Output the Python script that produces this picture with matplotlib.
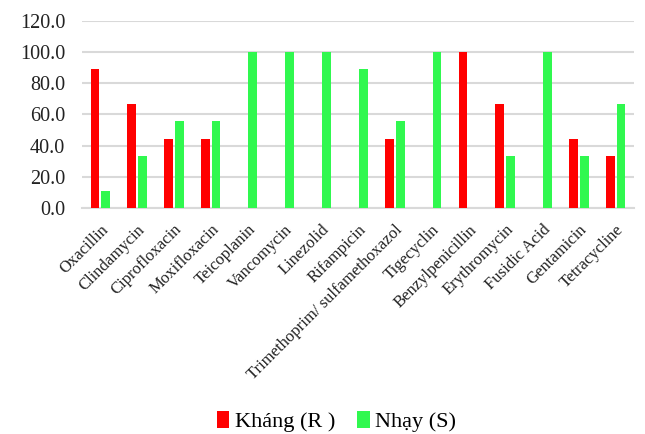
import numpy as np
import matplotlib.pyplot as plt

# du lieu
khang_so = ["Oxacillin", "Clindamycin", "Ciprofloxacin", "Moxifloxacin", "Teicoplanin",
            "Vancomycin", "Linezolid", "Rifampicin", "Trimethoprim/ sulfamethoxazol",
            "Tigecyclin", "Benzylpenicillin", "Erythromycin", "Fusidic Acid",
            "Gentamicin", "Tetracycline"]
khang = [88.9, 66.7, 44.4, 44.4, 0, 0, 0, 0, 44.4, 0, 100.0, 66.7, 0, 44.4, 33.3]
nhay = [11.1, 33.3, 55.6, 55.6, 100.0, 100.0, 100.0, 88.9, 55.6, 100.0, 0, 33.3, 100.0, 33.3, 66.7]
y_ticks = [0, 20, 40, 60, 80, 100, 120]

plt.rcParams['font.family'] = ['Liberation Serif', 'DejaVu Serif']

fig = plt.figure(figsize=(6.45, 4.34), dpi=100)
ax = fig.add_axes([0.127, 0.521, 0.856, 0.431])

x = np.arange(len(khang_so))
w = 0.24
ax.bar(x - w / 2 - 0.025, khang, w, color='#FF0000', label='Kháng (R )', zorder=3)
ax.bar(x + w / 2 + 0.025, nhay, w, color='#30F84F', label='Nhạy (S)', zorder=3)

ax.set_xlim(-0.5, len(khang_so) - 0.5)
ax.set_ylim(0, 120)
ax.set_yticks(y_ticks)
ax.set_yticklabels([f"{v:.1f}" for v in y_ticks], fontsize=14.5, color='#222222')
ax.yaxis.grid(True, color='#D9D9D9', linewidth=1.5, zorder=0)
ax.set_xticks(x)
ax.set_xticklabels(khang_so, rotation=45, ha='right', rotation_mode='anchor',
                   fontsize=12, color='#222222')
ax.tick_params(axis='both', length=0)
ax.tick_params(axis='x', pad=10)
ax.tick_params(axis='y', pad=12)
for s in ['top', 'right', 'left']:
    ax.spines[s].set_visible(False)
ax.spines['bottom'].set_color('#D9D9D9')
ax.spines['bottom'].set_linewidth(1.5)

fig.legend(loc='center', bbox_to_anchor=(0.522, 0.028), ncol=2, frameon=False,
           fontsize=16, handlelength=0.55, handleheight=0.75, handletextpad=0.25,
           columnspacing=1.0)

fig.savefig('out.png', dpi=100)
